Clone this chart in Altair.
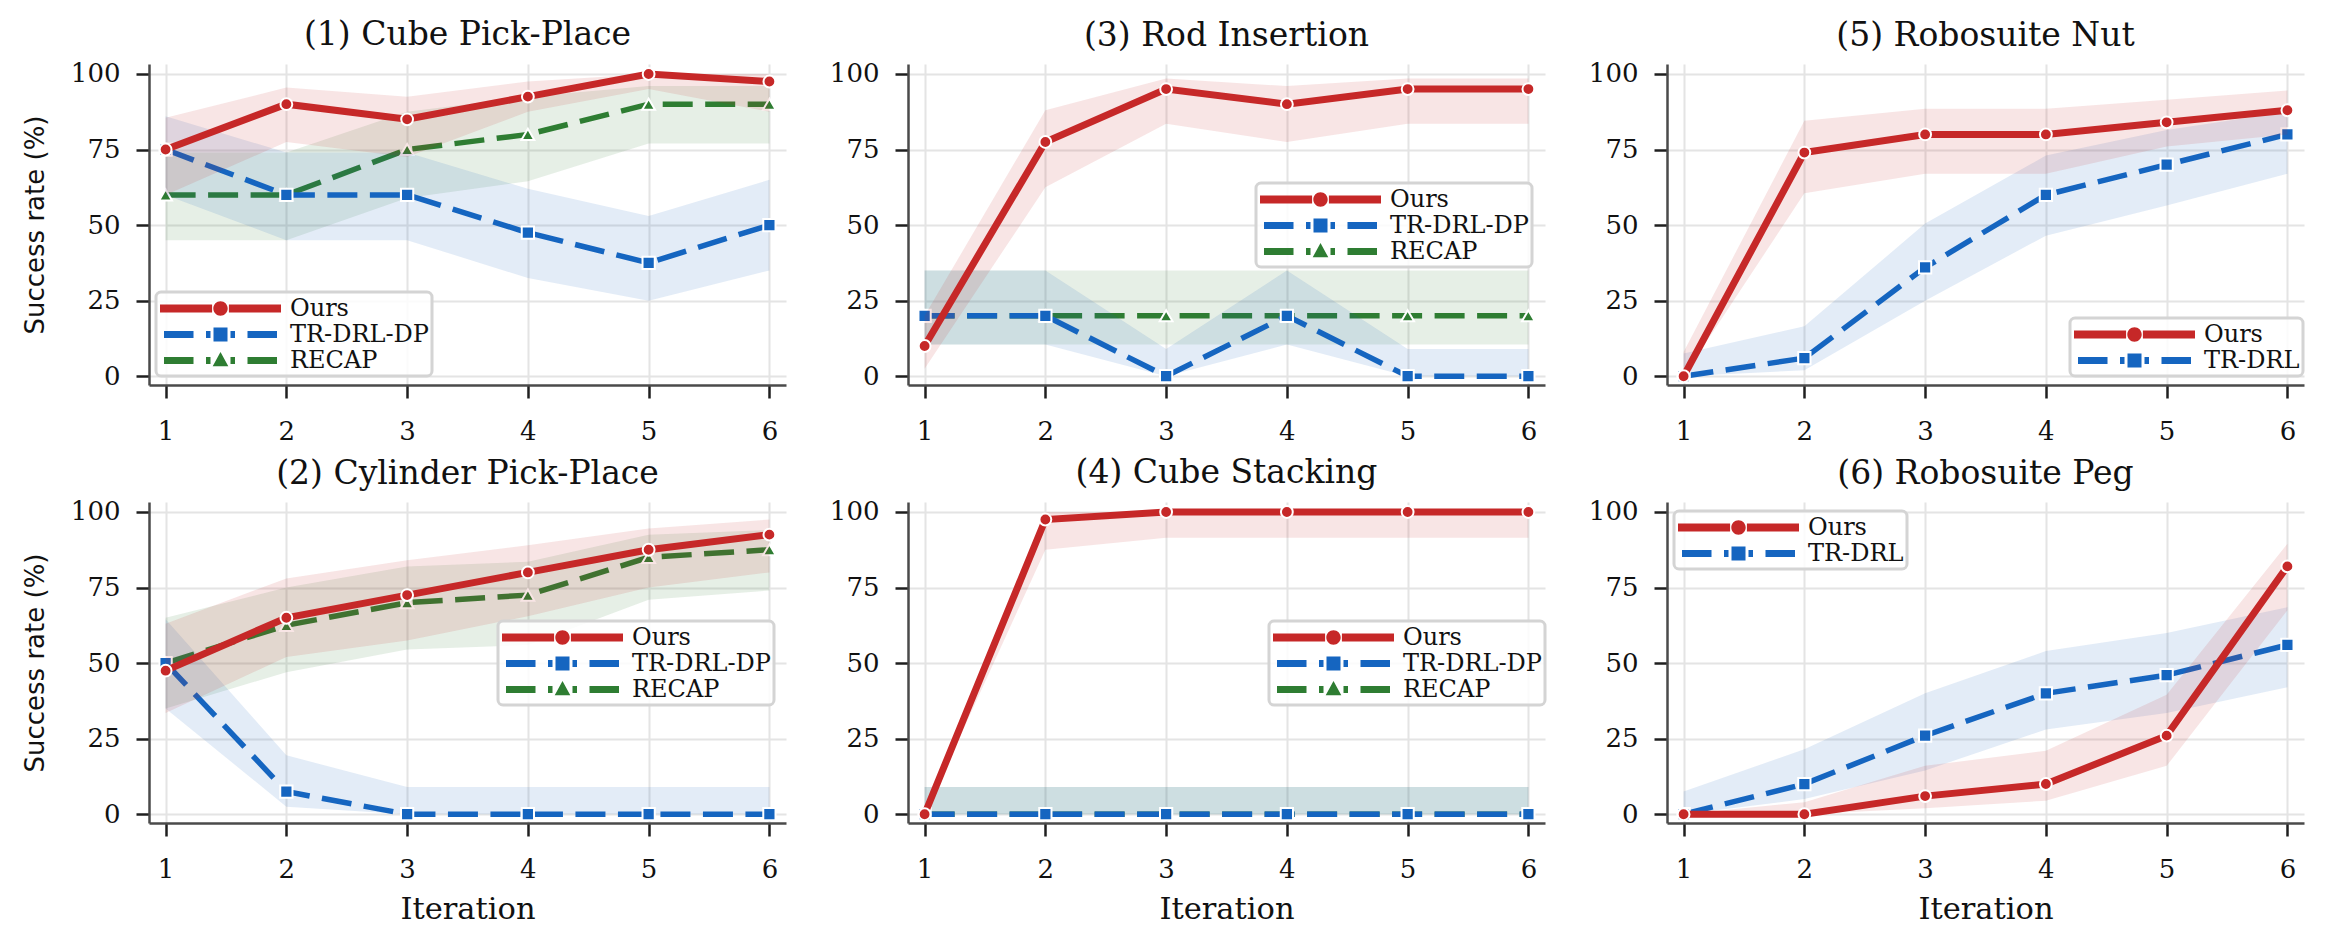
import altair as alt
import pandas as pd

ITERATION = [1, 2, 3, 4, 5, 6]
Y_TICKS = [0, 25, 50, 75, 100]

SERIES_FULL = ["Ours", "TR-DRL-DP", "RECAP"]
SERIES_SUITE = ["Ours", "TR-DRL"]

# (1) Cube Pick-Place
CUBE_PP_OURS = [75, 90, 85, 92.5, 100, 97.5]
CUBE_PP_OURS_LO = [60, 77.5, 72.5, 87.5, 95, 87.5]
CUBE_PP_OURS_HI = [85.5, 95.5, 92.5, 97.5, 100, 100]
CUBE_PP_TR = [75, 60, 60, 47.5, 37.5, 50]
CUBE_PP_TR_LO = [60, 45, 45, 32.5, 25, 35]
CUBE_PP_TR_HI = [86, 74, 74, 62, 53, 65]
CUBE_PP_RECAP = [60, 60, 75, 80, 90, 90]
CUBE_PP_RECAP_LO = [45, 45, 59, 64.5, 77, 77]
CUBE_PP_RECAP_HI = [74, 74, 87.5, 92.5, 96, 96]

# (2) Cylinder Pick-Place
CYL_OURS = [47.5, 65, 72.5, 80, 87.5, 92.5]
CYL_OURS_LO = [33.5, 52, 57.5, 65.5, 75, 80]
CYL_OURS_HI = [63, 78, 84, 89, 94.5, 97.5]
CYL_TR = [50, 7.5, 0, 0, 0, 0]
CYL_TR_LO = [35, 2.5, 0, 0, 0, 0]
CYL_TR_HI = [64.5, 19.5, 9, 9, 9, 9]
CYL_RECAP = [50, 62.5, 70, 72.5, 85, 87.5]
CYL_RECAP_LO = [35, 47, 54.5, 56, 71, 74]
CYL_RECAP_HI = [65, 75, 82, 83.5, 92.5, 94]

# (3) Rod Insertion
ROD_OURS = [10, 77.5, 95, 90, 95, 95]
ROD_OURS_LO = [2.5, 62.5, 83.5, 77.5, 83.5, 83.5]
ROD_OURS_HI = [20, 88, 98.5, 96, 98.5, 98.5]
ROD_TR = [20, 20, 0, 20, 0, 0]
ROD_TR_LO = [10.5, 10.5, 0, 10.5, 0, 0]
ROD_TR_HI = [35, 35, 9, 35, 9, 9]
ROD_RECAP = [20, 20, 20, 20, 20, 20]
ROD_RECAP_LO = [10.5, 10.5, 10.5, 10.5, 10.5, 10.5]
ROD_RECAP_HI = [35, 35, 35, 35, 35, 35]

# (4) Cube Stacking
STACK_OURS = [0, 97.5, 100, 100, 100, 100]
STACK_OURS_LO = [0, 87.5, 91.5, 91.5, 91.5, 91.5]
STACK_OURS_HI = [0, 100, 100, 100, 100, 100]
STACK_TR = [0, 0, 0, 0, 0, 0]
STACK_TR_LO = [0, 0, 0, 0, 0, 0]
STACK_TR_HI = [9, 9, 9, 9, 9, 9]
STACK_RECAP = [0, 0, 0, 0, 0, 0]
STACK_RECAP_LO = [0, 0, 0, 0, 0, 0]
STACK_RECAP_HI = [9, 9, 9, 9, 9, 9]

# (5) Robosuite Nut
NUT_OURS = [0, 74, 80, 80, 84, 88]
NUT_OURS_LO = [0, 60.5, 67, 67, 76, 80]
NUT_OURS_HI = [8, 84.5, 88.5, 88.5, 91.5, 94.5]
NUT_TR = [0, 6, 36, 60, 70, 80]
NUT_TR_LO = [0, 2, 25, 46.5, 56.5, 67]
NUT_TR_HI = [7.5, 16.5, 50.5, 73, 81.5, 87.5]

# (6) Robosuite Peg
PEG_OURS = [0, 0, 6, 10, 26, 82]
PEG_OURS_LO = [0, 0, 2, 4.5, 16, 67.5]
PEG_OURS_HI = [0, 4, 16, 21, 39.5, 89.5]
PEG_TR = [0, 10, 26, 40, 46, 56]
PEG_TR_LO = [0, 5, 14.5, 28, 33.5, 42]
PEG_TR_HI = [7.5, 21.5, 40, 54, 60, 68.5]

SERIF = "DejaVu Serif"
SANS = "DejaVu Sans"
RED, BLUE, GREEN = "#c62828", "#1565c0", "#2e7d32"
DASH = [30, 12.5]

STYLE = {
    "Ours": dict(color=RED, dash=None, shape="circle", width=7, size=140),
    "TR-DRL-DP": dict(color=BLUE, dash=DASH, shape="square", width=5.5, size=150),
    "TR-DRL": dict(color=BLUE, dash=DASH, shape="square", width=5.5, size=150),
    "RECAP": dict(color=GREEN, dash=DASH, shape="triangle-up", width=5.5, size=165),
}

PLOT_W, PLOT_H = 637, 321
X_DOMAIN = [0.8625, 6.1375]
Y_DOMAIN = [-2.9, 103.3]

# Legend handles: a line sample with the marker in the middle, drawn as one
# custom symbol path. Units are symbol-size units (LEG_UNIT px each); the
# sample is shifted right so the whole handle sits left of the label.
LEG_SYM = 25
LEG_UNIT = LEG_SYM / 2.0
LEG_CENTER = 48.0


def _p(x, y):
    return f"{(x + LEG_CENTER) / LEG_UNIT:.4f},{y / LEG_UNIT:.4f}"


def _rect(x0, x1, h):
    return f"M{_p(x0, -h)}L{_p(x1, -h)}L{_p(x1, h)}L{_p(x0, h)}Z"


def _circle(r):
    ru = r / LEG_UNIT
    return (f"M{_p(-r, 0)}A{ru:.4f},{ru:.4f} 0 1,0 {_p(r, 0)}"
            f"A{ru:.4f},{ru:.4f} 0 1,0 {_p(-r, 0)}Z")


def _dashes(h):
    return (_rect(-56.5, -27, h) + _rect(-14.5, -10, h)
            + _rect(10, 14.5, h) + _rect(27, 56.5, h))


HANDLE = {
    "Ours": _rect(-60.5, -8.4, 4.0) + _rect(8.4, 60.5, 4.0) + _circle(7.2),
    "TR-DRL-DP": _dashes(3.6) + _rect(-7.0, 7.0, 7.0),
    "TR-DRL": _dashes(3.6) + _rect(-7.0, 7.0, 7.0),
    "RECAP": _dashes(3.6) + f"M{_p(0, -8.5)}L{_p(7.8, 5.8)}L{_p(-7.8, 5.8)}Z",
}

PANELS_TOP = [
    ("(1) Cube Pick-Place", SERIES_FULL,
     [(CUBE_PP_OURS, CUBE_PP_OURS_LO, CUBE_PP_OURS_HI),
      (CUBE_PP_TR, CUBE_PP_TR_LO, CUBE_PP_TR_HI),
      (CUBE_PP_RECAP, CUBE_PP_RECAP_LO, CUBE_PP_RECAP_HI)], (7, 228)),
    ("(3) Rod Insertion", SERIES_FULL,
     [(ROD_OURS, ROD_OURS_LO, ROD_OURS_HI),
      (ROD_TR, ROD_TR_LO, ROD_TR_HI),
      (ROD_RECAP, ROD_RECAP_LO, ROD_RECAP_HI)], (348, 119)),
    ("(5) Robosuite Nut", SERIES_SUITE,
     [(NUT_OURS, NUT_OURS_LO, NUT_OURS_HI),
      (NUT_TR, NUT_TR_LO, NUT_TR_HI)], (403, 254)),
]
PANELS_BOTTOM = [
    ("(2) Cylinder Pick-Place", SERIES_FULL,
     [(CYL_OURS, CYL_OURS_LO, CYL_OURS_HI),
      (CYL_TR, CYL_TR_LO, CYL_TR_HI),
      (CYL_RECAP, CYL_RECAP_LO, CYL_RECAP_HI)], (349, 119)),
    ("(4) Cube Stacking", SERIES_FULL,
     [(STACK_OURS, STACK_OURS_LO, STACK_OURS_HI),
      (STACK_TR, STACK_TR_LO, STACK_TR_HI),
      (STACK_RECAP, STACK_RECAP_LO, STACK_RECAP_HI)], (361, 119)),
    ("(6) Robosuite Peg", SERIES_SUITE,
     [(PEG_OURS, PEG_OURS_LO, PEG_OURS_HI),
      (PEG_TR, PEG_TR_LO, PEG_TR_HI)], (7, 9)),
]


def panel(title, names, stats, legend_xy, first_col, bottom_row):
    rows = []
    for name, (mean, lo, hi) in zip(names, stats):
        for it, m, a, b in zip(ITERATION, mean, lo, hi):
            rows.append({"series": name, "it": it, "mean": m, "lo": a, "hi": b})
    df = pd.DataFrame(rows)

    x_axis = alt.Axis(values=ITERATION, format="d",
                      title="Iteration" if bottom_row else None)
    y_axis = alt.Axis(values=Y_TICKS, format="d",
                      title="Success rate (%)" if first_col else None)
    x_scale = alt.Scale(domain=X_DOMAIN, nice=False, zero=False)
    y_scale = alt.Scale(domain=Y_DOMAIN, nice=False, zero=False)
    x = alt.X("it:Q", scale=x_scale, axis=x_axis)
    y = alt.Y("mean:Q", scale=y_scale, axis=y_axis)

    layers = []
    # draw baselines first so that "Ours" ends up on top
    for name in reversed(names):
        st = STYLE[name]
        base = alt.Chart(df[df["series"] == name])
        layers.append(
            base.mark_area(color=st["color"], opacity=0.12, interpolate="linear")
            .encode(x=x, y=alt.Y("lo:Q", scale=y_scale, axis=y_axis), y2="hi:Q")
        )
        line_kw = dict(color=st["color"], strokeWidth=st["width"])
        if st["dash"]:
            line_kw["strokeDash"] = st["dash"]
        layers.append(base.mark_line(**line_kw).encode(x=x, y=y))
        layers.append(
            base.mark_point(shape=st["shape"], size=st["size"], filled=True,
                            fill=st["color"], stroke="white", strokeWidth=2,
                            opacity=1)
            .encode(x=x, y=y)
        )

    legend = alt.Legend(
        title=None, orient="none", legendX=legend_xy[0], legendY=legend_xy[1],
        symbolSize=LEG_SYM * LEG_SYM, symbolStrokeColor="white",
        symbolStrokeWidth=1.5, symbolOpacity=1, labelOffset=104,
        labelFont=SERIF, labelFontSize=24, labelColor="#111",
        padding=3, rowPadding=0, fillColor="rgba(255,255,255,0.85)",
        strokeColor="#d4d4d4", cornerRadius=5, labelLimit=400,
    )
    layers.append(
        alt.Chart(df).mark_point(filled=True, opacity=0, stroke="white",
                                 strokeWidth=1.5)
        .encode(
            x=x, y=y,
            color=alt.Color("series:N", legend=legend,
                            scale=alt.Scale(domain=names,
                                            range=[STYLE[n]["color"] for n in names])),
            shape=alt.Shape("series:N", legend=legend,
                            scale=alt.Scale(domain=names,
                                            range=[HANDLE[n] for n in names])),
        )
    )

    return alt.layer(*layers).properties(
        width=PLOT_W, height=PLOT_H,
        title=alt.TitleParams(title, font=SERIF, fontSize=33, fontWeight="normal",
                              color="#111", anchor="middle", frame="group",
                              baseline="alphabetic", offset=-18),
    )


def row(panels, bottom_row):
    charts = [panel(t, n, s, lx, i == 0, bottom_row)
              for i, (t, n, s, lx) in enumerate(panels)]
    return alt.hconcat(*charts, spacing=35).resolve_scale(
        color="independent", shape="independent"
    ).resolve_legend(color="independent", shape="independent")


chart = (
    alt.vconcat(row(PANELS_TOP, False), row(PANELS_BOTTOM, True), spacing=12)
    .resolve_scale(color="independent", shape="independent")
    .resolve_legend(color="independent", shape="independent")
    .properties(padding={"left": 22, "top": 18, "right": 10, "bottom": 5},
                background="white")
    .configure_view(stroke=None)
    .configure_axis(
        domainColor="#4a4a4a", domainWidth=2.5,
        tickColor="#1f1f1f", tickWidth=2.5, tickSize=13,
        gridColor="#e4e4e4", gridWidth=2,
        labelFont=SERIF, labelFontSize=26, labelColor="#111", labelPadding=16,
        labelFlush=False, labelOverlap=False,
        titleColor="#111", titleFontWeight="normal",
    )
    .configure_axisX(titleFont=SERIF, titleFontSize=30.5, titlePadding=12,
                     labelPadding=20)
    .configure_axisY(titleFont=SANS, titleFontSize=26, titlePadding=22)
    .configure_legend(strokeWidth=3)
)

chart.save("out.html", embed_options={"renderer": "svg", "actions": False})
